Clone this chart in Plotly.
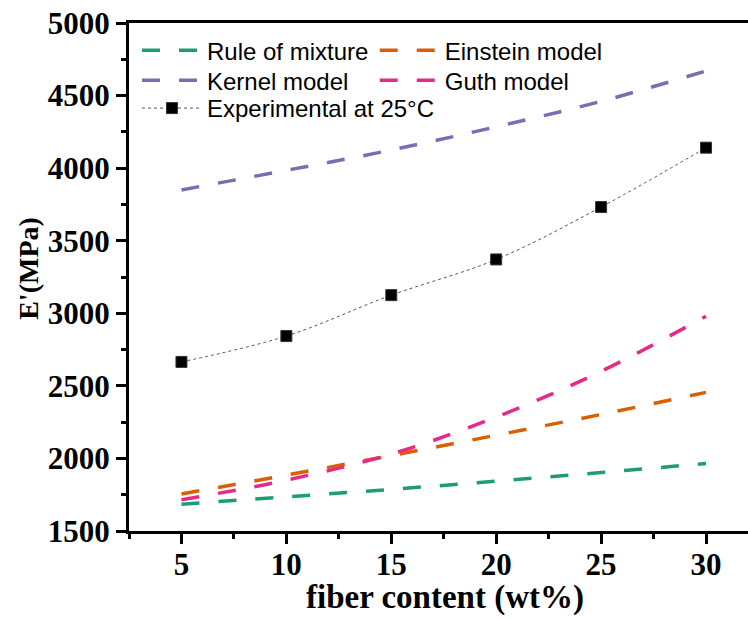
import plotly.graph_objects as go

fiber = [5, 10, 15, 20, 25, 30]
rule_of_mixture = [1685, 1735, 1787, 1843, 1903, 1965]
einstein_model = [1755, 1885, 2020, 2160, 2303, 2455]
kernel_model = [3850, 3985, 4125, 4285, 4460, 4670]
guth_model = [1715, 1850, 2030, 2285, 2600, 2980]
experimental = [2665, 2843, 3125, 3371, 3732, 4141]

x_ticks = [5, 10, 15, 20, 25, 30]
y_ticks = [1500, 2000, 2500, 3000, 3500, 4000, 4500, 5000]

colors = {"rule": "#1B9E77", "einstein": "#D95F02", "kernel": "#7570B3", "guth": "#E7298A"}
dash = "18px,19px"

fig = go.Figure()
fig.add_trace(go.Scatter(x=fiber, y=rule_of_mixture, mode="lines", name="Rule of mixture",
                         line=dict(color=colors["rule"], width=3.5, dash=dash, shape="spline"),
                         legend="legend", showlegend=True))
fig.add_trace(go.Scatter(x=fiber, y=einstein_model, mode="lines", name="Einstein model",
                         line=dict(color=colors["einstein"], width=3.5, dash=dash, shape="spline"),
                         legend="legend2", showlegend=True))
fig.add_trace(go.Scatter(x=fiber, y=kernel_model, mode="lines", name="Kernel model",
                         line=dict(color=colors["kernel"], width=3.5, dash=dash, shape="spline"),
                         legend="legend3", showlegend=True))
fig.add_trace(go.Scatter(x=fiber, y=guth_model, mode="lines", name="Guth model",
                         line=dict(color=colors["guth"], width=3.5, dash=dash, shape="spline"),
                         legend="legend4", showlegend=True))
fig.add_trace(go.Scatter(x=fiber, y=experimental, mode="lines+markers", name="Experimental at 25°C",
                         line=dict(color="#555555", width=1, dash="dot", shape="spline"),
                         marker=dict(symbol="square", size=11, color="black",
                                     line=dict(color="#333333", width=1)),
                         legend="legend5", showlegend=True))

serif = "Times New Roman, Liberation Serif, serif"
sans = "Arial, Liberation Sans, sans-serif"

axis_common = dict(
    showline=True, linecolor="black", linewidth=3,
    ticks="outside", ticklen=10, tickwidth=2.5, tickcolor="black",
    showgrid=False, zeroline=False,
    tickfont=dict(family=serif, size=31, color="black", weight="bold"),
)

fig.update_xaxes(
    range=[2.5, 32.0], tickmode="array", tickvals=x_ticks, ticktext=[str(v) for v in x_ticks],
    mirror=True, ticklabelstandoff=-6,
    minor=dict(ticks="outside", ticklen=5, tickwidth=2.5, tickcolor="black", dtick=2.5, tick0=2.5),
    **axis_common,
)
fig.update_yaxes(
    range=[1500, 5000], tickmode="array", tickvals=y_ticks, ticktext=[str(v) for v in y_ticks],
    minor=dict(ticks="outside", ticklen=5, tickwidth=2.5, tickcolor="black", dtick=250, tick0=1500),
    **axis_common,
)

fig.add_annotation(text="<b>fiber content (wt%)</b>", xref="paper", yref="paper",
                   x=0.5105, y=-0.130, xanchor="center", yanchor="middle", showarrow=False,
                   font=dict(family=serif, size=33, color="black"))
fig.add_annotation(text="<b>E'(MPa)</b>", xref="paper", yref="paper", textangle=-90,
                   x=-0.1616, y=0.518, xanchor="center", yanchor="middle", showarrow=False,
                   font=dict(family=serif, size=28, color="black"))

legend_common = dict(
    font=dict(family=sans, size=24, color="black"),
    bgcolor="rgba(0,0,0,0)", borderwidth=0,
    yanchor="top", xanchor="left", tracegroupgap=0, itemwidth=60,
)
col1, col2 = 0.0129, 0.397
row1, row2, row3 = 0.990, 0.931, 0.876
fig.update_layout(
    width=748, height=619,
    margin=dict(l=129, r=0, t=23, b=88),
    paper_bgcolor="white", plot_bgcolor="white",
    showlegend=True,
    legend=dict(x=col1, y=row1, **legend_common),
    legend2=dict(x=col2, y=row1, **legend_common),
    legend3=dict(x=col1, y=row2, **legend_common),
    legend4=dict(x=col2, y=row2, **legend_common),
    legend5=dict(x=col1, y=row3, **legend_common),
)

fig.write_html("out.html")
